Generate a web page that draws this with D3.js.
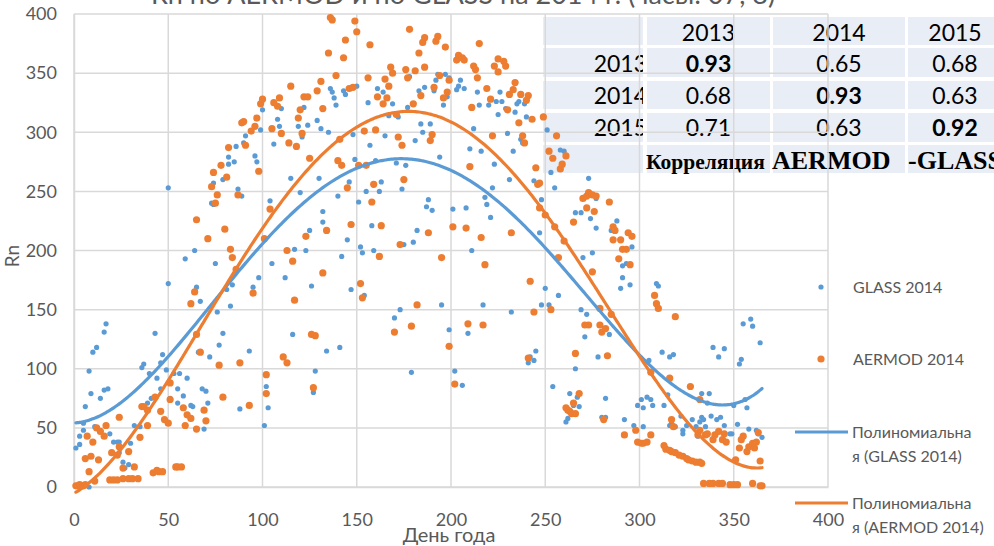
<!DOCTYPE html>
<html>
<head>
<meta charset="utf-8">
<script src="https://cdn.jsdelivr.net/npm/d3@7"></script>
<style>
  html, body { margin: 0; padding: 0; background: #ffffff; }
  svg { display: block; }
</style>
</head>
<body>
<svg id="chart" width="994" height="546"></svg>
<script>
// ---- Data: daily net radiation Rn, 2014 ([day of year, Rn]) ----
const glass2014 = [
  [1,33],[3,36],[3,43],[5,48],[5,54],[6,68],[8,98],[8,0],[9,79],[10,114],[11,51],[12,118],[14,75],[16,131],[16,82],[17,138],[18,83],[19,45],[21,38],[23,38],[24,38],[24,29],[26,21],[27,16],[29,19],[30,37],[32,52],[35,51],[36,101],[37,104],[39,71],[40,96],[41,75],[43,130],[44,92],[46,83],[47,112],[46,105],[49,99],[50,253],[50,172],[51,75],[53,96],[55,71],[56,96],[55,83],[58,77],[60,92],[62,69],[63,68],[59,193],[64,200],[65,169],[66,114],
  [67,157],[68,83],[70,81],[71,71],[69,49],[72,110],[74,239],[75,189],[73,240],[74,257],[76,148],[77,120],[79,260],[79,130],[81,167],[82,273],[82,279],[83,153],[84,171],[85,275],[86,288],[87,252],[88,66],[89,246],[90,291],[91,297],[93,115],[95,169],[96,280],[97,275],[98,177],[99,302],[100,319],[101,52],[102,85],[103,67],[104,242],[105,189],[106,290],[108,311],[109,305],[110,320],[112,177],[113,105],[115,261],[116,129],[117,201],[119,305],[120,249],[121,296],[122,321],[123,200],[124,306],[125,217],[126,170],[127,80],[128,98],[129,310],[130,261],[131,303],[132,233],[132,224],
  [134,115],[135,300],[136,337],[137,334],[138,329],[139,323],[140,246],[141,118],[142,195],[143,335],[144,332],[145,209],[146,258],[147,167],[148,298],[149,277],[150,339],[151,241],[152,203],[153,198],[154,162],[155,250],[156,325],[157,289],[158,221],[159,200],[160,276],[161,337],[162,250],[163,258],[164,334],[165,297],[167,314],[169,324],[170,143],[171,274],[172,313],[173,150],[174,252],[175,205],[176,272],[177,321],[178,347],[179,97],[180,207],[181,293],[182,217],[183,335],[184,307],[185,300],[186,338],[187,237],[188,243],[189,307],[190,234],[191,335],[192,344],[193,349],[194,279],[195,154],[196,323],[197,349],[198,330],[199,133],[199,346],
  [199,119],[201,235],[202,98],[203,336],[204,339],[205,344],[206,86],[207,337],[208,236],[209,130],[210,286],[211,200],[212,303],[214,334],[215,323],[216,284],[217,154],[218,245],[219,239],[220,323],[221,228],[222,253],[223,273],[224,326],[225,315],[226,334],[227,326],[229,320],[230,299],[231,260],[232,148],[233,284],[234,317],[235,324],[236,326],[237,294],[238,291],[239,324],[240,313],[241,105],[242,110],[244,259],[245,115],[244,107],[247,215],[248,154],[248,243],[250,168],[251,302],[252,154],[253,266],[254,85],[255,253],[257,162],[258,285],[260,284],[261,55],[262,58],[263,79],[264,62],[265,69],[266,232],[266,100],
  [269,232],[270,194],[273,261],[274,227],[277,219],[277,244],[275,198],[285,217],[288,225],[291,187],[290,168],[291,177],[293,189],[295,171],[296,203],[269,150],[272,146],[271,127],[278,110],[282,75],[280,59],[282,59],[268,68],[267,76],[284,129],[292,57],[297,52],[299,69],[301,74],[302,51],[302,67],[304,76],[305,107],[306,74],[307,69],[309,172],[310,170],[312,114],[313,69],[315,78],[316,52],[316,110],[318,112],[317,54],[319,51],[322,60],[323,48],[325,52],[328,57],[330,51],[331,43],[332,55],[333,59],[323,45],
  [333,79],[334,57],[335,51],[336,71],[337,79],[338,60],[339,118],[341,57],[342,110],[343,59],[345,117],[345,52],[348,45],[349,45],[350,69],[352,53],[353,104],[354,108],[355,138],[356,74],[357,67],[358,49],[359,142],[360,136],[363,45],[364,122],[365,42],[362,48]
];

const aermod2014 = [
  [1,1],[2,1],[3,2],[4,1],[5,1],[6,2],[8,13],[6,24],[9,26],[10,38],[7,43],[12,50],[13,23],[14,47],[16,43],[17,52],[11,5],[19,6],[20,29],[23,27],[24,34],[26,16],[29,30],[24,59],[21,6],[23,6],[26,7],[29,7],[31,7],[34,7],[32,17],[36,68],[37,68],[35,42],[39,52],[39,65],[43,76],[42,12],[45,13],[47,13],[44,14],[46,64],[48,57],[50,54],[51,88],[51,74],[54,17],[55,17],[57,17],[58,67],[60,61],[59,52],[62,58],[62,155],[64,165],[65,226],[65,129],
  [65,49],[67,114],[69,65],[70,56],[71,210],[73,254],[74,266],[75,240],[76,247],[77,103],[78,272],[79,76],[80,218],[81,262],[82,287],[83,201],[84,194],[86,184],[87,247],[88,105],[89,308],[90,309],[91,289],[93,69],[94,301],[95,164],[96,305],[97,312],[98,267],[99,324],[100,328],[101,210],[102,95],[102,79],[104,235],[105,303],[106,325],[108,322],[109,329],[110,299],[111,110],[113,200],[113,105],[114,291],[115,339],[116,191],[117,158],[118,288],[119,312],[120,319],[121,299],[122,330],[124,330],[123,212],[125,278],[126,129],[128,128],[127,84],[129,335],[131,343],[132,320],[132,181],
  [135,367],[136,397],[137,395],[139,348],[134,217],[141,294],[140,276],[142,272],[143,363],[144,378],[145,253],[146,337],[147,222],[148,338],[149,394],[150,385],[151,272],[152,172],[153,160],[154,301],[155,272],[156,346],[157,374],[158,241],[159,256],[160,302],[161,330],[163,221],[162,195],[164,324],[165,345],[166,329],[167,339],[168,355],[169,350],[170,131],[171,315],[172,296],[173,205],[174,289],[175,260],[176,353],[177,346],[178,387],[179,136],[180,324],[181,352],[182,154],[183,367],[184,331],[185,376],[186,380],[186,355],[188,215],[189,293],[190,298],[191,338],[192,377],[193,381],[194,348],[195,194],[196,329],[197,372],[198,334],[199,119],[199,344],
  [201,220],[202,87],[203,361],[204,365],[206,363],[207,361],[208,219],[209,138],[210,271],[211,321],[212,356],[213,353],[214,346],[215,375],[216,211],[217,137],[218,188],[219,337],[221,328],[222,297],[223,356],[225,362],[225,351],[228,360],[229,356],[230,319],[231,332],[232,215],[233,336],[234,342],[236,308],[237,332],[238,297],[239,291],[240,327],[241,331],[241,109],[242,174],[243,311],[244,148],[245,270],[246,256],[247,257],[247,236],[249,313],[250,230],[252,284],[253,150],[254,278],[255,220],[256,297],[257,194],[258,269],[259,273],[260,208],[261,280],[261,67],[262,65],[263,64],[264,62],[266,62],[266,113],
  [270,244],[272,246],[273,249],[272,236],[265,224],[275,247],[276,233],[277,246],[284,241],[286,220],[287,217],[286,209],[290,209],[291,201],[293,201],[294,215],[296,212],[289,193],[295,188],[275,182],[279,151],[285,146],[279,137],[280,131],[282,134],[283,111],[271,137],[273,137],[268,79],[265,71],[281,57],[308,162],[309,155],[310,151],[319,144],[306,97],[316,92],[327,85],[332,74],[292,44],[298,48],[299,38],[301,37],[302,37],[304,38],[306,44],[317,57],[318,51],[313,35],[314,32],[316,31],[317,30],[319,29],[321,27],[323,26],[325,24],[326,23],[328,22],[330,21],[332,21],[333,20],[331,44],[332,48],
  [335,44],[336,45],[339,40],[340,44],[342,47],[344,40],[345,45],[346,38],[351,23],[353,33],[354,40],[355,43],[357,30],[358,34],[360,37],[361,33],[362,38],[363,46],[364,22],[334,3],[337,3],[339,3],[342,3],[344,3],[348,2],[350,2],[352,2],[360,3],[364,1],[365,1]
];

// Correlation table AERMOD vs GLASS by year
const tableYears = ["2013", "2014", "2015"];
const correlations = [
  [0.93, 0.65, 0.68],
  [0.68, 0.93, 0.63],
  [0.71, 0.63, 0.92]
];

const xTicks = [0, 50, 100, 150, 200, 250, 300, 350, 400];
const yTicks = [0, 50, 100, 150, 200, 250, 300, 350, 400];

const titleText = "Rn по AERMOD и по GLASS на 2014 г. (часы: 07, 8)";
const xTitle = "День года";
const yTitle = "Rn";
const legendLabels = ["GLASS 2014", "AERMOD 2014", "Полиномиальна|я (GLASS 2014)", "Полиномиальна|я (AERMOD 2014)"];

// ---- Styling ----
const BLUE = "#5b9bd5", ORANGE = "#ed7d31", GRID = "#d9d9d9", TXT = "#595959";
const FONT = "Lato, 'Open Sans', sans-serif";

const svg = d3.select("#chart");
const plot = { left: 74, right: 828, top: 14, bottom: 487 };

const x = d3.scaleLinear().domain([0, 400]).range([plot.left, plot.right]);
const y = d3.scaleLinear().domain([0, 400]).range([plot.bottom, plot.top]);

// ---- Least-squares polynomial trend (order 4) ----
function polyFit(points, degree) {
  const n = degree + 1, s = 365;
  const A = Array.from({ length: n }, () => new Array(n + 1).fill(0));
  points.forEach(([d, v]) => {
    const t = d / s;
    const pw = [1];
    for (let i = 1; i < 2 * n; i++) pw.push(pw[i - 1] * t);
    for (let i = 0; i < n; i++) {
      for (let j = 0; j < n; j++) A[i][j] += pw[i + j];
      A[i][n] += pw[i] * v;
    }
  });
  for (let c = 0; c < n; c++) {
    let p = c;
    for (let r = c + 1; r < n; r++) if (Math.abs(A[r][c]) > Math.abs(A[p][c])) p = r;
    [A[c], A[p]] = [A[p], A[c]];
    for (let r = 0; r < n; r++) {
      if (r === c) continue;
      const f = A[r][c] / A[c][c];
      for (let k = c; k <= n; k++) A[r][k] -= f * A[c][k];
    }
  }
  const coef = A.map((row, i) => row[n] / row[i]);
  return d => coef.reduce((acc, c, i) => acc + c * Math.pow(d / s, i), 0);
}

// ---- Correlation table (sits behind the plot) ----
const tbl = svg.append("g").attr("class", "corr-table");
const colX = [[543, 643], [647, 770], [773, 905], [908, 1002]];
const rowY = [[17, 45], [48, 77], [81, 109], [113, 142], [145, 173]];
const TBL_BG = "#e9edf5";
rowY.forEach(([y0, y1]) => {
  colX.forEach(([x0, x1]) => {
    tbl.append("rect").attr("x", x0).attr("y", y0).attr("width", x1 - x0).attr("height", y1 - y0).attr("fill", TBL_BG);
  });
});
const colCenter = colX.map(([a, b]) => (a + b) / 2);
colCenter[3] = 955;
const rowBase = [41, 72, 104, 136];
const NUMFONT = "Lato, sans-serif";
// header
tableYears.forEach((yr, j) => {
  tbl.append("text").attr("x", colCenter[j + 1]).attr("y", rowBase[0]).attr("text-anchor", "middle")
    .attr("font-family", NUMFONT).attr("font-size", 23).attr("fill", "#000").text(yr);
});
svg.append("defs").append("clipPath").attr("id", "rowLabelClip")
  .append("rect").attr("x", 540).attr("y", 40).attr("width", 103).attr("height", 110);
tableYears.forEach((yr, i) => {
  tbl.append("text").attr("x", 647).attr("y", rowBase[i + 1]).attr("text-anchor", "end")
    .attr("clip-path", "url(#rowLabelClip)")
    .attr("font-family", NUMFONT).attr("font-size", 23).attr("fill", "#000").text(yr);
  correlations[i].forEach((v, j) => {
    tbl.append("text").attr("x", colCenter[j + 1]).attr("y", rowBase[i + 1]).attr("text-anchor", "middle")
      .attr("font-family", NUMFONT).attr("font-size", 23)
      .attr("font-weight", i === j ? 700 : 400).attr("fill", "#000").text(v.toFixed(2));
  });
});
const serif = "'Liberation Serif', 'Times New Roman', serif";
tbl.append("text").attr("x", 646).attr("y", 169).attr("font-family", serif).attr("font-weight", 700)
  .attr("font-size", 21.5).attr("fill", "#000").text("Корреляция");
tbl.append("text").attr("x", 772).attr("y", 169).attr("font-family", serif).attr("font-weight", 700)
  .attr("font-size", 26).attr("fill", "#000").text("AERMOD");
tbl.append("text").attr("x", 908).attr("y", 169).attr("font-family", serif).attr("font-weight", 700)
  .attr("font-size", 26).attr("fill", "#000").text("-GLASS");

// ---- Title ----
svg.append("text").attr("x", 151).attr("y", 4).attr("font-family", FONT).attr("font-size", 27)
  .attr("fill", TXT).text(titleText);

// ---- Gridlines ----
const grid = svg.append("g");
grid.selectAll("line.h").data(yTicks).join("line")
  .attr("x1", plot.left).attr("x2", plot.right)
  .attr("y1", d => y(d)).attr("y2", d => y(d))
  .attr("stroke", GRID).attr("stroke-width", 1.5);
grid.selectAll("line.v").data(xTicks).join("line")
  .attr("y1", plot.top).attr("y2", plot.bottom)
  .attr("x1", d => x(d)).attr("x2", d => x(d))
  .attr("stroke", GRID).attr("stroke-width", 1.5);

// ---- Axes labels via d3 axes ----
const yAxis = svg.append("g").attr("transform", `translate(${plot.left},0)`)
  .call(d3.axisLeft(y).tickValues(yTicks).tickSize(0).tickPadding(17));
const xAxis = svg.append("g").attr("transform", `translate(0,${plot.bottom})`)
  .call(d3.axisBottom(x).tickValues(xTicks).tickSize(0).tickPadding(26));
[yAxis, xAxis].forEach(g => {
  g.select(".domain").attr("stroke", GRID).attr("stroke-width", 1.5);
  g.selectAll("text").attr("font-family", FONT).attr("font-size", 18).attr("fill", TXT);
});

svg.append("text").attr("x", 449).attr("y", 542).attr("text-anchor", "middle")
  .attr("font-family", FONT).attr("font-size", 20).attr("fill", TXT).text(xTitle);
svg.append("text").attr("transform", "translate(19,256) rotate(-90)").attr("text-anchor", "middle")
  .attr("font-family", FONT).attr("font-size", 19).attr("fill", TXT).text(yTitle);

// ---- Scatter points ----
svg.append("g").selectAll("circle").data(glass2014).join("circle")
  .attr("cx", d => x(d[0])).attr("cy", d => y(d[1])).attr("r", 2.6).attr("fill", BLUE);
svg.append("g").selectAll("circle").data(aermod2014).join("circle")
  .attr("cx", d => x(d[0])).attr("cy", d => y(d[1])).attr("r", 3.6).attr("fill", ORANGE);

// ---- Trend lines ----
function trendPath(points, color) {
  const f = polyFit(points, 4);
  const d0 = d3.min(points, p => p[0]), d1 = d3.max(points, p => p[0]);
  const pts = d3.range(d0, d1 + 0.01, 1).map(d => [d, f(d)]);
  svg.append("path").datum(pts)
    .attr("d", d3.line().x(p => x(p[0])).y(p => y(p[1])).curve(d3.curveMonotoneX))
    .attr("fill", "none").attr("stroke", color).attr("stroke-width", 3.2).attr("stroke-linecap", "round");
}
trendPath(glass2014, BLUE);
trendPath(aermod2014, ORANGE);

// ---- Legend ----
const lg = svg.append("g").attr("font-family", FONT).attr("font-size", 16).attr("fill", TXT);
lg.append("circle").attr("cx", 821).attr("cy", 287).attr("r", 2.6).attr("fill", BLUE);
lg.append("text").attr("x", 853).attr("y", 293).text(legendLabels[0]);
lg.append("circle").attr("cx", 821).attr("cy", 359).attr("r", 3.6).attr("fill", ORANGE);
lg.append("text").attr("x", 853).attr("y", 365).text(legendLabels[1]);
[[BLUE, 432, legendLabels[2]], [ORANGE, 503, legendLabels[3]]].forEach(([c, ly, label]) => {
  lg.append("line").attr("x1", 795).attr("x2", 848).attr("y1", ly).attr("y2", ly)
    .attr("stroke", c).attr("stroke-width", 3.2);
  const parts = label.split("|");
  lg.append("text").attr("x", 852).attr("y", ly + 6).text(parts[0]);
  lg.append("text").attr("x", 852).attr("y", ly + 30).text(parts[1]);
});
</script>
</body>
</html>
